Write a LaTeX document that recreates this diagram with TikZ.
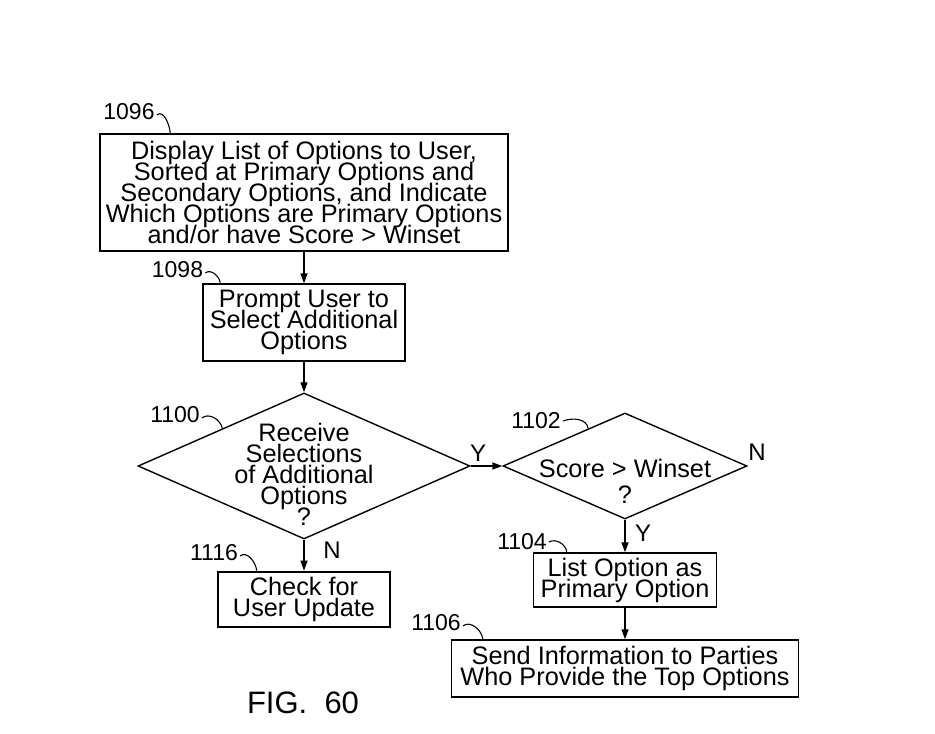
\documentclass[tikz,border=0pt]{standalone}
\usepackage{fontspec}
\setmainfont{Liberation Sans}
\usetikzlibrary{shapes.geometric,arrows.meta,calc}
\newcommand{\flowfont}{\fontsize{25.3}{21}\selectfont\lineskiplimit=-50pt\relax}

\begin{document}
\begin{tikzpicture}[x=1pt,y=1pt,
  box/.style={draw,line width=1.4pt,inner sep=0pt,align=center,font=\flowfont},
  dia/.style={draw,diamond,line width=1.4pt,inner sep=0pt},
  txt/.style={inner sep=0pt,align=center,font=\flowfont},
  num/.style={inner sep=0pt,font=\fontsize{23}{23}\selectfont},
  yn/.style={inner sep=0pt,font=\fontsize{24}{24}\selectfont},
  arr/.style={line width=1.4pt,-{Triangle[length=10pt,width=7pt]}},
  lead/.style={line width=1.1pt}]
\useasboundingbox (0,0) rectangle (935,734);
% left column
\node[box,minimum width=408pt,minimum height=117pt] (b1096) at (304,541.5) {Display List of Options to User,\\Sorted at Primary Options and\\Secondary Options, and Indicate\\Which Options are Primary Options\\and/or have Score > Winset};
\node[box,minimum width=202pt,minimum height=77pt] (b1098) at (304,411.5) {Prompt User to\\Select Additional\\Options};
\node[dia,minimum width=332pt,minimum height=146pt] (d1100) at (304,268) {};
\node[txt] (t1100) at (304,259.5) {Receive\\Selections\\of Additional\\Options\\?};
\node[box,line width=2.6pt,minimum width=172pt,minimum height=55pt] (b1116) at (304,134.5) {Check for\\User Update};
% right column
\node[dia,minimum width=244pt,minimum height=106pt] (d1102) at (625,268) {};
\node[txt] (t1102) at (625,253) {Score > Winset\\[5pt]?};
\node[box,minimum width=183pt,minimum height=54pt] (b1104) at (625,154) {List Option as\\Primary Option};
\node[box,minimum width=347pt,minimum height=57pt] (b1106) at (625,65.5) {Send Information to Parties\\Who Provide the Top Options};
% arrows
\draw[arr] (b1096) -- (b1098);
\draw[arr] (b1098) -- (d1100);
\draw[arr] (d1100) -- (b1116);
\draw[arr] (d1100.east) -- (d1102.west);
\draw[arr] (d1102) -- (b1104);
\draw[arr] (b1104) -- (b1106);
% Y / N
\node[yn] (y1100) at (478,281) {Y};
\node[yn] (n1100) at (332,184) {N};
\node[yn] (n1102) at (757,282) {N};
\node[yn] (y1102) at (643,201) {Y};
% reference numbers
\node[num] (l1096) at (129,622) {1096};
\node[num] (l1098) at (177.5,464) {1098};
\node[num] (l1100) at (175,319) {1100};
\node[num] (l1116) at (214,181) {1116};
\node[num] (l1102) at (536,313) {1102};
\node[num] (l1104) at (522,192) {1104};
\node[num] (l1106) at (436,111) {1106};
\draw[lead] ([shift={(2pt,-3pt)}]l1096.east) to[out=40,in=95] ([xshift=71pt]b1096.north west);
\draw[lead] ([shift={(2pt,-3pt)}]l1098.east) to[out=40,in=95] ([xshift=18pt]b1098.north west);
\draw[lead] ([shift={(2pt,-3pt)}]l1100.east) to[out=40,in=100] ($(d1100.west)!0.51!(d1100.north)$);
\draw[lead] ([shift={(2pt,-3pt)}]l1116.east) to[out=40,in=95] ([xshift=40pt]b1116.north west);
\draw[lead] ([shift={(2pt,0pt)}]l1102.east) to[out=20,in=100] ($(d1102.west)!0.7!(d1102.north)$);
\draw[lead] ([shift={(2pt,0pt)}]l1104.east) to[out=30,in=95] ([xshift=34pt]b1104.north west);
\draw[lead] ([shift={(2pt,-3pt)}]l1106.east) to[out=40,in=95] ([xshift=32pt]b1106.north west);
% caption
\node[inner sep=0pt,font=\fontsize{31}{31}\selectfont] (fig) at (303,31) {FIG.\ \ 60};
\end{tikzpicture}
\end{document}
